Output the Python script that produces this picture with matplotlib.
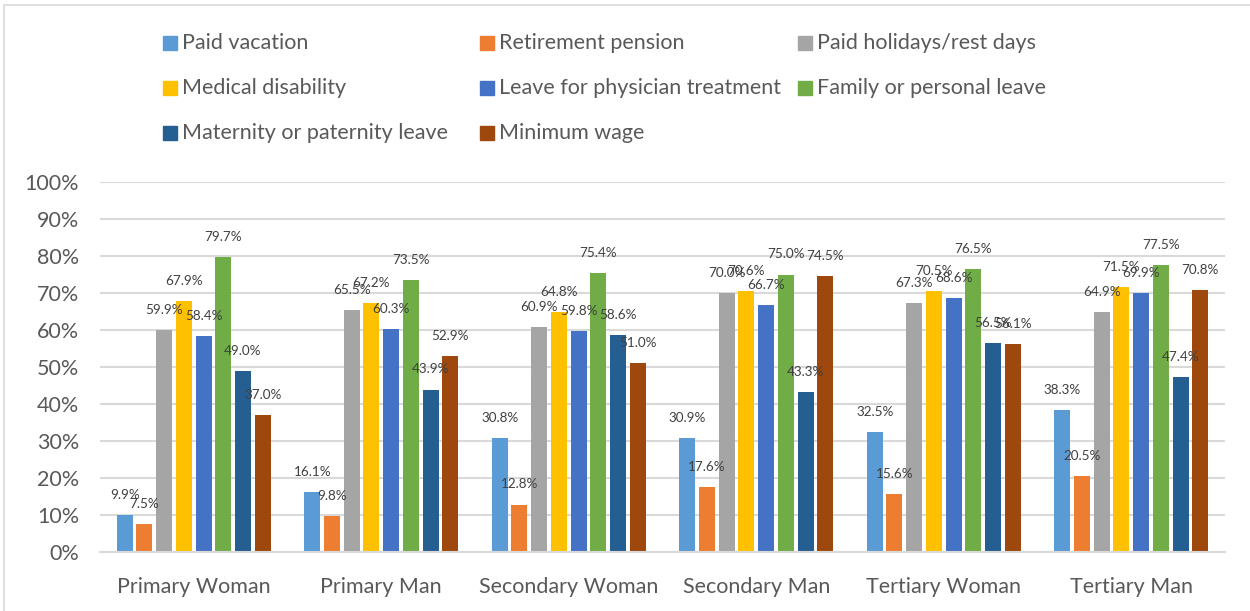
import numpy as np
import matplotlib.pyplot as plt
from matplotlib.patches import Rectangle

# categories and series
groups = ['Primary Woman', 'Primary Man', 'Secondary Woman', 'Secondary Man',
          'Tertiary Woman', 'Tertiary Man']
series = ['Paid vacation', 'Retirement pension', 'Paid holidays/rest days',
          'Medical disability', 'Leave for physician treatment', 'Family or personal leave',
          'Maternity or paternity leave', 'Minimum wage']

paid_vacation = [9.9, 16.1, 30.8, 30.9, 32.5, 38.3]
retirement_pension = [7.5, 9.8, 12.8, 17.6, 15.6, 20.5]
paid_holidays = [59.9, 65.5, 60.9, 70.0, 67.3, 64.9]
medical_disability = [67.9, 67.2, 64.8, 70.6, 70.5, 71.5]
physician_leave = [58.4, 60.3, 59.8, 66.7, 68.6, 69.9]
family_leave = [79.7, 73.5, 75.4, 75.0, 76.5, 77.5]
maternity_leave = [49.0, 43.9, 58.6, 43.3, 56.5, 47.4]
minimum_wage = [37.0, 52.9, 51.0, 74.5, 56.1, 70.8]

values = [paid_vacation, retirement_pension, paid_holidays, medical_disability,
          physician_leave, family_leave, maternity_leave, minimum_wage]
colors = ['#5B9BD5', '#ED7D31', '#A5A5A5', '#FFC000',
          '#4472C4', '#70AD47', '#255E91', '#9E480E']

plt.rcParams['font.family'] = ['Lato', 'DejaVu Sans']
txt = '#595959'

fig = plt.figure(figsize=(12.5, 6.11), dpi=100)
ax = fig.add_axes([0.08, 0.0966, 0.90, 0.6054])

x = np.arange(len(groups))
step = 0.1051
width = 0.0853
for i, (vals, c) in enumerate(zip(values, colors)):
    pos = x + (i - 3.5) * step
    bars = ax.bar(pos, np.array(vals) / 100, width=width, color=c, zorder=3)
    for b, v in zip(bars, vals):
        # labels sit a little above the bar, as in the original
        ax.annotate(f'{v:.1f}%', (b.get_x() + b.get_width() / 2, b.get_height()),
                    xytext=(0, 14.5), textcoords='offset points',
                    ha='center', va='center', fontsize=9.7, color='#404040', zorder=4)

ax.set_xlim(-0.5, len(groups) - 0.5)
ax.set_ylim(0, 1)
ax.set_yticks(np.arange(0, 1.01, 0.1))
ax.set_yticklabels([f'{int(round(t * 100))}%' for t in np.arange(0, 1.01, 0.1)])
ax.set_xticks(x)
ax.set_xticklabels(groups)
ax.tick_params(axis='both', length=0, labelsize=15.5, colors=txt)
ax.tick_params(axis='x', pad=18)
ax.tick_params(axis='y', pad=15)
ax.yaxis.grid(True, color='#D9D9D9', linewidth=1.5, zorder=0)
for s in ['top', 'right', 'left']:
    ax.spines[s].set_visible(False)
ax.spines['bottom'].set_color('#D9D9D9')
ax.spines['bottom'].set_linewidth(1.5)
ax.spines['bottom'].set_zorder(5)

# legend laid out in rows like the original
W, H = 1250, 611
col_x = [163, 480, 798]
row_y = [43, 88, 133]
for i, (name, c) in enumerate(zip(series, colors)):
    r, k = divmod(i, 3)
    fig.patches.append(Rectangle((col_x[k] / W, (H - row_y[r] - 7) / H), 14 / W, 14 / H,
                                 transform=fig.transFigure, color=c))
    fig.text((col_x[k] + 19) / W, (H - row_y[r]) / H, name, fontsize=15.5,
             color=txt, va='center', ha='left')

# chart frame
fig.patches.append(Rectangle((4 / W, -0.1), 1.2, (H - 5) / H + 0.1, transform=fig.transFigure,
                             fill=False, edgecolor='#D9D9D9', linewidth=1.2))

fig.savefig('out.png', dpi=100)
